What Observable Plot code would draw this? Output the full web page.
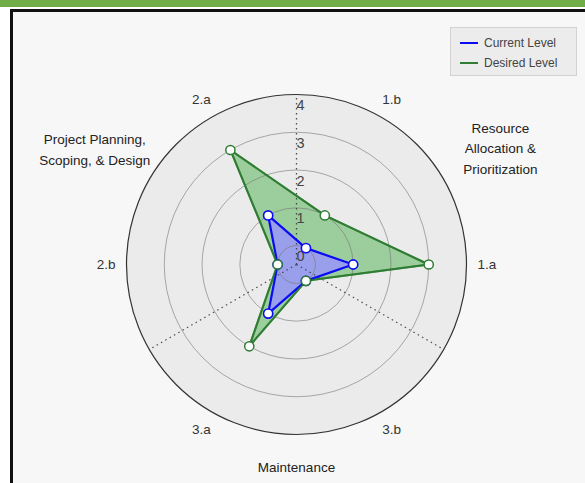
<!DOCTYPE html>
<html>
<head>
<meta charset="utf-8">
<script src="https://cdn.jsdelivr.net/npm/d3@7"></script>
<script src="https://cdn.jsdelivr.net/npm/@observablehq/plot@0.6"></script>
<style>
  html, body { margin: 0; padding: 0; background: #ffffff; }
  #wrap { position: relative; width: 585px; height: 483px; overflow: hidden; background: #ffffff; font-family: "Liberation Sans", Arial, sans-serif; }
  #topbar { position: absolute; left: 0; top: 0; width: 585px; height: 7px; background: #70ad47; }
  #frame { position: absolute; left: 10px; top: 9px; width: 600px; height: 500px; border-left: 3px solid #111; border-top: 3px solid #111; background: #f7f7f7; }
  #chart { position: absolute; left: 0; top: 0; }
  #legend { position: absolute; left: 450px; top: 27px; width: 127px; height: 49px; background: #ececec; border: 1px solid #d2d2d2; box-sizing: border-box; font-size: 12px; color: #444; }
  .item { position: absolute; left: 9px; display: flex; align-items: center; }
  .sw { width: 18px; height: 2px; margin-right: 6px; }
</style>
</head>
<body>
<div id="wrap">
  <div id="topbar"></div>
  <div id="frame"></div>
  <div id="chart"></div>
  <div id="legend"></div>
</div>
<script>
// ---- data ----
const categories = ["1.a", "1.b", "2.a", "2.b", "3.a", "3.b"];
const categoryAngles = [0, 60, 120, 180, 240, 300];
const currentLevel = [1, 0, 1, 0, 1, 0];
const desiredLevel = [3, 1, 3, 0, 2, 0];
const seriesNames = ["Current Level", "Desired Level"];
const radialTicks = [0, 1, 2, 3, 4];
const radialRange = [-0.5, 4];
const groupNames = ["Resource\nAllocation &\nPrioritization", "Project Planning,\nScoping, & Design", "Maintenance"];
const groupAngles = [30, 150, 270];
const dividerAngles = [90, 210, 330];

// ---- layout ----
const W = 585, H = 483, CX = 296, CY = 264, R = 170;
const colors = { current: "#0b0bf5", desired: "#2e7d32" };
const groupRadius = [1.385, 1.37, 1.18];

const rn = v => (v - radialRange[0]) / (radialRange[1] - radialRange[0]);
const px = (a, r) => r * Math.cos(a * Math.PI / 180);
const py = (a, r) => r * Math.sin(a * Math.PI / 180);

const rows = s => categories.map((c, i) => ({ cat: c, angle: categoryAngles[i], value: s[i] }));
const cur = rows(currentLevel);
const des = rows(desiredLevel);
const X = d => px(d.angle, rn(d.value));
const Y = d => py(d.angle, rn(d.value));

const plot = Plot.plot({
  width: W, height: H, margin: 0,
  style: { background: "transparent", fontFamily: "'Liberation Sans', Arial, sans-serif", fontSize: "13px" },
  x: { domain: [-1, 1], range: [CX - R, CX + R], axis: null },
  y: { domain: [-1, 1], range: [CY + R, CY - R], axis: null },
  r: { type: "linear", domain: radialRange, range: [0, R] },
  marks: [
    // polar background disc
    Plot.dot([radialRange[1]], { x: () => 0, y: () => 0, r: d => d, fill: "#ebebeb", stroke: "none" }),
    // fills
    Plot.line(des, { x: X, y: Y, curve: "linear-closed", fill: "#4caf50", fillOpacity: 0.5, stroke: "none" }),
    Plot.line(cur, { x: X, y: Y, curve: "linear-closed", fill: "#9a9af4", fillOpacity: 0.9, stroke: "none" }),
    // grid rings
    Plot.dot(radialTicks.slice(0, -1), { x: () => 0, y: () => 0, r: d => d, fill: "none", stroke: "#777", strokeOpacity: 0.6, strokeWidth: 1 }),
    Plot.dot([radialRange[1]], { x: () => 0, y: () => 0, r: d => d, fill: "none", stroke: "#333", strokeWidth: 1.2 }),
    // dotted group dividers
    Plot.link(dividerAngles, { x1: () => 0, y1: () => 0, x2: a => px(a, 1), y2: a => py(a, 1), stroke: "#333", strokeOpacity: 0.85, strokeWidth: 1.3, strokeDasharray: "1.5,3.5" }),
    // radial tick labels
    Plot.text(radialTicks, { x: () => 0, y: d => rn(d), text: d => String(d), dx: 4, dy: 11, fill: "#444", fontSize: 14.5 }),
    // outlines
    Plot.line(des, { x: X, y: Y, curve: "linear-closed", stroke: colors.desired, strokeWidth: 2 }),
    Plot.line(cur, { x: X, y: Y, curve: "linear-closed", stroke: colors.current, strokeWidth: 2.2 }),
    Plot.line(des, { x: X, y: Y, curve: "linear-closed", stroke: colors.desired, strokeWidth: 2, strokeOpacity: 0.6 }),
    Plot.dot(cur, { x: X, y: Y, fill: "white", stroke: colors.current, strokeWidth: 1.6 }),
    Plot.dot(des, { x: X, y: Y, fill: "white", stroke: colors.desired, strokeWidth: 1.5 }),
    // category labels
    Plot.text(cur, { x: d => px(d.angle, 1.12), y: d => py(d.angle, 1.12), text: "cat", fill: "#333", fontSize: 13.5 }),
    // group labels
    Plot.text(groupNames, { x: (d, i) => px(groupAngles[i], groupRadius[i]), y: (d, i) => py(groupAngles[i], groupRadius[i]), text: d => d, fill: "#222", fontSize: 13.5, lineHeight: 1.55 })
  ]
});
// dots sized 4.6 px
plot.querySelectorAll("circle").forEach(c => { if (+c.getAttribute("r") === 3 || c.getAttribute("r") === null) c.setAttribute("r", 4.6); });
document.getElementById("chart").appendChild(plot);

// legend
const legend = document.getElementById("legend");
[colors.current, colors.desired].forEach((col, i) => {
  const it = document.createElement("div");
  it.className = "item";
  it.style.top = (8 + i * 20) + "px";
  it.innerHTML = `<div class="sw" style="background:${col}"></div><span>${seriesNames[i]}</span>`;
  legend.appendChild(it);
});
</script>
</body>
</html>
